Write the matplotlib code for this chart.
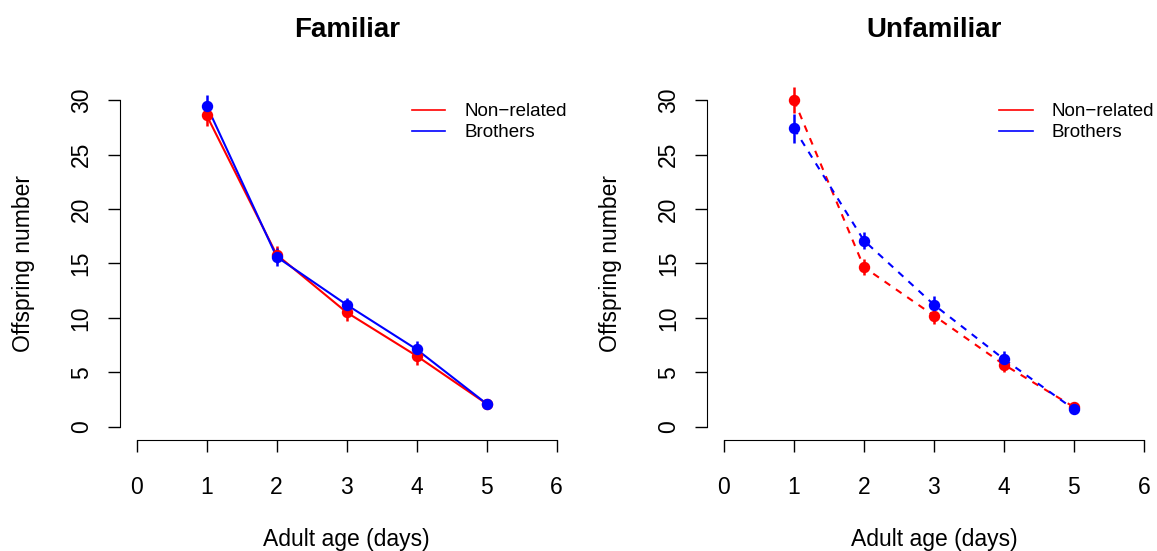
import matplotlib.pyplot as plt

plt.rcParams['font.family'] = ['Liberation Sans', 'DejaVu Sans']

days = [1, 2, 3, 4, 5]

# Familiar
fam_nonrel = [28.6, 15.8, 10.5, 6.5, 2.1]
fam_nonrel_se = [1.0, 0.8, 0.75, 0.85, 0.3]
fam_bro = [29.5, 15.6, 11.2, 7.1, 2.1]
fam_bro_se = [1.0, 0.8, 0.65, 0.75, 0.3]

# Unfamiliar
unf_nonrel = [30.0, 14.65, 10.2, 5.7, 1.8]
unf_nonrel_se = [1.2, 0.75, 0.77, 0.7, 0.3]
unf_bro = [27.4, 17.1, 11.2, 6.2, 1.6]
unf_bro_se = [1.3, 0.8, 0.77, 0.75, 0.3]

xticks = [0, 1, 2, 3, 4, 5, 6]
yticks = [0, 5, 10, 15, 20, 25, 30]

fig = plt.figure(figsize=(11.57, 5.51), dpi=100)
ax1 = fig.add_axes([0.1036, 0.202, 0.392, 0.640])
ax2 = fig.add_axes([0.6112, 0.202, 0.392, 0.640])

panels = [
    (ax1, 'Familiar', fam_nonrel, fam_nonrel_se, fam_bro, fam_bro_se, '-'),
    (ax2, 'Unfamiliar', unf_nonrel, unf_nonrel_se, unf_bro, unf_bro_se, '--'),
]

for ax, title, nr, nr_se, br, br_se, ls in panels:
    for vals, se, col, lab in [(nr, nr_se, 'red', 'Non\u2212related'),
                               (br, br_se, 'blue', 'Brothers')]:
        line, = ax.plot(days, vals, color=col, lw=1.5, ls=ls)
        if ls == '--':
            line.set_dashes((3.3, 3.3))
        ax.errorbar(days, vals, yerr=se, fmt='o', color=col, ms=7.2,
                    elinewidth=1.8, capsize=0)
        ax.plot([], [], color=col, lw=1.2, label=lab)

    ax.set_xlim(-0.24, 6.24)
    ax.set_ylim(-1.2, 31.2)
    ax.set_xticks(xticks)
    ax.set_yticks(yticks)
    ax.spines['top'].set_visible(False)
    ax.spines['right'].set_visible(False)
    ax.spines['left'].set_bounds(0, 30)
    ax.spines['bottom'].set_bounds(0, 6)
    ax.tick_params(length=8.6, width=1, labelsize=16.5)
    ax.tick_params(axis='x', pad=17.5)
    ax.tick_params(axis='y', pad=11)
    plt.setp(ax.get_yticklabels(), rotation=90, va='center')
    ax.set_xlabel('Adult age (days)', fontsize=16.5, labelpad=21)
    ax.set_ylabel('Offspring number', fontsize=16.5, labelpad=25)
    ax.set_title(title, fontsize=20, fontweight='bold', pad=35.8)
    ax.legend(loc='upper right', bbox_to_anchor=(1.022, 1.002), frameon=False,
              fontsize=13.5, handlelength=1.8, handletextpad=1.0,
              labelspacing=0.2)

plt.savefig('out.png', dpi=100)
